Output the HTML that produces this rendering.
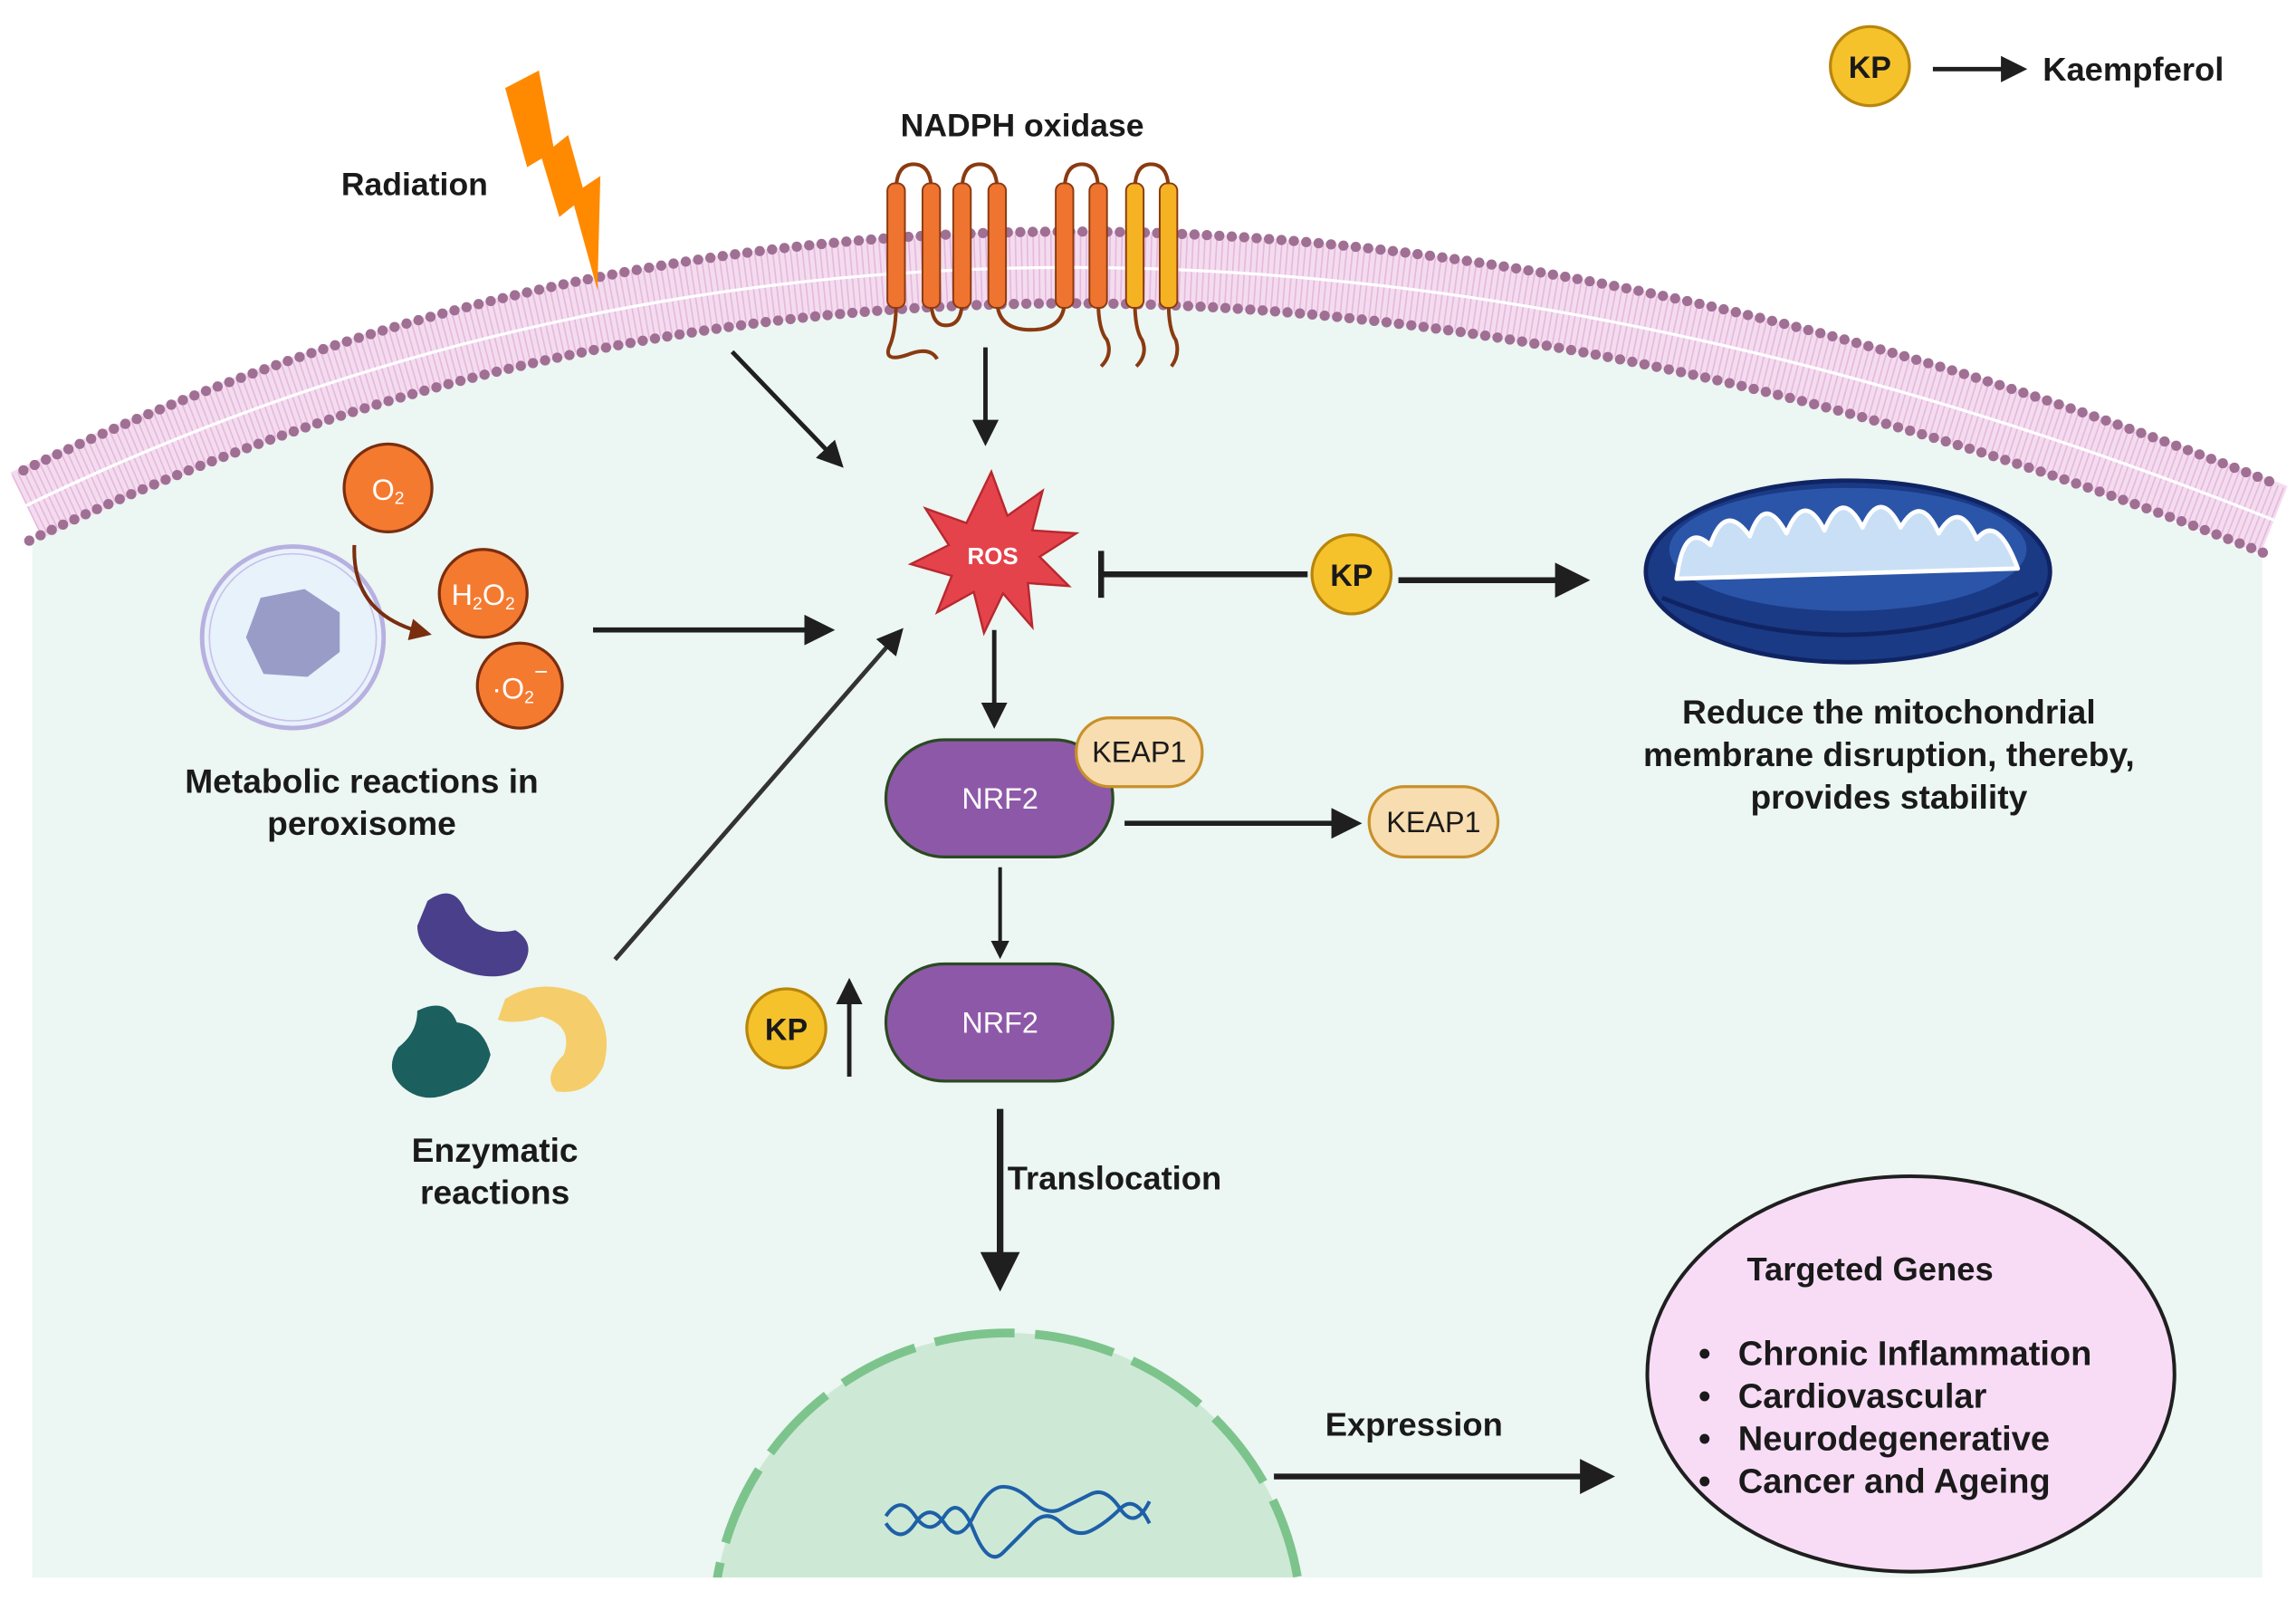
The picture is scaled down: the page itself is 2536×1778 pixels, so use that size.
<!DOCTYPE html>
<html><head><meta charset="utf-8"><style>
html,body{margin:0;padding:0;background:#fff;width:2536px;height:1778px;overflow:hidden}
svg{display:block}
text{font-family:"Liberation Sans",sans-serif;font-weight:bold;fill:#1a1a1a}
</style></head><body>
<svg width="2536" height="1778" viewBox="0 0 1568 1099" xmlns="http://www.w3.org/2000/svg">
<defs>
<marker id="ah" markerWidth="6" markerHeight="6" refX="4.5" refY="3" orient="auto" markerUnits="strokeWidth"><path d="M0,0 L6,3 L0,6 Z" fill="#1f1f1f"/></marker>
<marker id="ahs" markerWidth="5" markerHeight="5" refX="3.5" refY="2.5" orient="auto" markerUnits="strokeWidth"><path d="M0,0 L5,2.5 L0,5 Z" fill="#1f1f1f"/></marker>
<marker id="ahb" markerWidth="6" markerHeight="6" refX="4" refY="3" orient="auto" markerUnits="strokeWidth"><path d="M0,0 L6,3 L0,6 Z" fill="#7a2e10"/></marker>
<clipPath id="cl"><rect x="0" y="0" width="1568" height="1077"/></clipPath>
</defs>
<rect width="1568" height="1099" fill="#fff"/>
<path d="M22,370 Q700,40 1545,380 L1545,1077 L22,1077 Z" fill="#ecf6f2"/>
<path d="M18,345 Q700,15 1553,355" fill="none" stroke="#f4dcef" stroke-width="50"/>
<path d="M18,345 Q700,15 1553,355" fill="none" stroke="#e0a8d6" stroke-width="46" stroke-dasharray="1 3" opacity="0.7"/>
<path d="M18,345 Q700,15 1553,355" fill="none" stroke="#fff" stroke-width="2"/>
<path d="M16,321 Q700,-10 1556,331" fill="none" stroke="#a06f94" stroke-width="7" stroke-dasharray="0 8.5" stroke-linecap="round"/>
<path d="M20,369 Q700,40 1550,379" fill="none" stroke="#a06f94" stroke-width="7" stroke-dasharray="0 8.5" stroke-linecap="round"/>
<circle cx="1277" cy="45" r="27" fill="#f5c22c" stroke="#b8860b" stroke-width="2"/>
<text x="1277" y="53" font-size="21" text-anchor="middle">KP</text>
<line x1="1320" y1="47" x2="1380" y2="47" stroke="#1f1f1f" stroke-width="3" marker-end="url(#ah)"/>
<text x="1395" y="55" font-size="22.5">Kaempferol</text>
<text x="233" y="133" font-size="22">Radiation</text>
<path d="M345,60 L368,48 L378,100 L388,92 L398,128 L410,120 L408,198 L392,140 L382,148 L370,108 L360,114 Z" fill="#ff8a00"/>
<text x="615" y="93" font-size="22">NADPH oxidase</text>
<g fill="none" stroke="#8a3a10" stroke-width="2.5">
<path d="M612,130 Q612,112 624,112 Q636,112 636,130"/>
<path d="M657,130 Q657,112 669,112 Q681,112 681,130"/>
<path d="M727,130 Q727,112 739,112 Q750,112 750,130"/>
<path d="M775,130 Q775,112 786,112 Q798,112 798,130"/>
<path d="M636,205 Q636,222 646,222 Q657,222 657,205"/>
<path d="M681,205 Q681,225 704,225 Q727,225 727,205"/>
<path d="M612,205 Q612,225 608,235 Q602,248 620,242 Q635,236 640,245"/>
<path d="M750,205 Q750,225 756,232 Q760,242 752,250"/>
<path d="M775,205 Q775,225 780,232 Q784,242 776,250"/>
<path d="M798,205 Q798,225 803,232 Q806,242 800,250"/>
</g>
<g stroke="#8a3a10" stroke-width="1.2">
<rect x="606" y="125" width="12" height="85" rx="5" fill="#ee7430"/>
<rect x="630" y="125" width="12" height="85" rx="5" fill="#ee7430"/>
<rect x="651" y="125" width="12" height="85" rx="5" fill="#ee7430"/>
<rect x="675" y="125" width="12" height="85" rx="5" fill="#ee7430"/>
<rect x="721" y="125" width="12" height="85" rx="5" fill="#ee7430"/>
<rect x="744" y="125" width="12" height="85" rx="5" fill="#ee7430"/>
<rect x="769" y="125" width="12" height="85" rx="5" fill="#f5b324"/>
<rect x="792" y="125" width="12" height="85" rx="5" fill="#f5b324"/>
</g>
<line x1="673" y1="237" x2="673" y2="300" stroke="#1f1f1f" stroke-width="3" marker-end="url(#ah)"/>
<line x1="500" y1="240" x2="573" y2="316" stroke="#1f1f1f" stroke-width="3" marker-end="url(#ah)"/>
<line x1="405" y1="430" x2="565" y2="430" stroke="#1f1f1f" stroke-width="3.5" marker-end="url(#ah)"/>
<line x1="420" y1="655" x2="614" y2="432" stroke="#333" stroke-width="3" marker-end="url(#ah)"/>
<path d="M677,322 L688,352 L712,335 L705,362 L735,364 L710,380 L730,400 L702,398 L705,428 L685,405 L672,432 L665,404 L640,418 L650,393 L622,385 L648,372 L632,347 L660,357 Z" fill="#e5434b" stroke="#b8282f" stroke-width="1.5"/>
<text x="678" y="385" font-size="16" text-anchor="middle" style="fill:#fff">ROS</text>
<line x1="752" y1="392" x2="893" y2="392" stroke="#1f1f1f" stroke-width="4"/>
<line x1="752" y1="376" x2="752" y2="408" stroke="#1f1f1f" stroke-width="4"/>
<circle cx="923" cy="392" r="27" fill="#f5c22c" stroke="#b8860b" stroke-width="2"/>
<text x="923" y="400" font-size="21" text-anchor="middle">KP</text>
<line x1="955" y1="396" x2="1080" y2="396" stroke="#1f1f1f" stroke-width="4" marker-end="url(#ah)"/>
<ellipse cx="1262" cy="390" rx="138" ry="62" fill="#1a3a85" stroke="#102463" stroke-width="3"/>
<ellipse cx="1262" cy="375" rx="122" ry="42" fill="#2b55a8"/>
<path d="M1145,395 Q1150,355 1168,372 Q1178,342 1195,366 Q1205,336 1220,364 Q1232,334 1246,362 Q1258,332 1272,360 Q1284,332 1298,360 Q1312,336 1324,364 Q1338,340 1350,368 Q1364,350 1378,388 Z" fill="#c9dff5" stroke="#fff" stroke-width="3" stroke-linejoin="round"/>
<path d="M1135,408 Q1262,460 1392,405" fill="none" stroke="#102463" stroke-width="3"/>
<text x="1290" y="494" font-size="23" text-anchor="middle">Reduce the mitochondrial</text>
<text x="1290" y="523" font-size="23" text-anchor="middle">membrane disruption, thereby,</text>
<text x="1290" y="552" font-size="23" text-anchor="middle">provides stability</text>
<circle cx="200" cy="435" r="62" fill="#e8f2fb" stroke="#b8b0e0" stroke-width="3"/>
<circle cx="200" cy="435" r="57" fill="none" stroke="#c8c0ea" stroke-width="1"/>
<path d="M178,408 L208,402 L232,418 L232,445 L210,462 L180,460 L168,435 Z" fill="#9a9cc8"/>
<path d="M242,372 Q240,420 290,432" fill="none" stroke="#7a2e10" stroke-width="2.5" marker-end="url(#ahb)"/>
<g fill="#f47a30" stroke="#7a2e10" stroke-width="2">
<circle cx="265" cy="333" r="30"/><circle cx="330" cy="405" r="30"/><circle cx="355" cy="468" r="29"/>
</g>
<text x="265" y="341" font-size="20" text-anchor="middle" style="fill:#fff;font-weight:normal">O<tspan font-size="12" dy="3">2</tspan></text>
<text x="330" y="413" font-size="20" text-anchor="middle" style="fill:#fff;font-weight:normal">H<tspan font-size="12" dy="3">2</tspan><tspan dy="-3">O</tspan><tspan font-size="12" dy="3">2</tspan></text>
<text x="355" y="477" font-size="20" text-anchor="middle" style="fill:#fff;font-weight:normal">·O<tspan font-size="12" dy="3">2</tspan><tspan font-size="16" dy="-16">−</tspan></text>
<text x="247" y="541" font-size="23" text-anchor="middle">Metabolic reactions in</text>
<text x="247" y="570" font-size="23" text-anchor="middle">peroxisome</text>
<path d="M292,615 Q310,602 318,622 Q330,640 352,635 Q368,645 355,662 Q335,672 310,660 Q285,650 285,632 Z" fill="#4a3f8a"/>
<path d="M285,690 Q305,680 312,698 Q330,700 335,720 Q330,740 310,745 Q290,755 275,742 Q262,730 272,715 Q285,705 285,690 Z" fill="#1b5f5e"/>
<path d="M345,682 Q370,666 400,680 Q420,700 412,728 Q402,748 380,745 Q370,735 385,720 Q392,700 370,694 Q352,700 340,696 Z" fill="#f5cd6a"/>
<text x="338" y="793" font-size="23" text-anchor="middle">Enzymatic</text>
<text x="338" y="822" font-size="23" text-anchor="middle">reactions</text>
<line x1="679" y1="430" x2="679" y2="493" stroke="#1f1f1f" stroke-width="3" marker-end="url(#ah)"/>
<rect x="605" y="505" width="155" height="80" rx="40" fill="#8e58a8" stroke="#2a4a22" stroke-width="2"/>
<text x="683" y="552" font-size="20" text-anchor="middle" style="fill:#fff;font-weight:normal">NRF2</text>
<rect x="735" y="490" width="86" height="47" rx="23" fill="#f8ddb0" stroke="#c8902a" stroke-width="2"/>
<text x="778" y="520" font-size="20" text-anchor="middle" style="font-weight:normal">KEAP1</text>
<line x1="768" y1="562" x2="925" y2="562" stroke="#1f1f1f" stroke-width="3.5" marker-end="url(#ah)"/>
<rect x="935" y="537" width="88" height="48" rx="24" fill="#f8ddb0" stroke="#c8902a" stroke-width="2"/>
<text x="979" y="568" font-size="20" text-anchor="middle" style="font-weight:normal">KEAP1</text>
<line x1="683" y1="592" x2="683" y2="651" stroke="#1f1f1f" stroke-width="2.5" marker-end="url(#ahs)"/>
<rect x="605" y="658" width="155" height="80" rx="40" fill="#8e58a8" stroke="#2a4a22" stroke-width="2"/>
<text x="683" y="705" font-size="20" text-anchor="middle" style="fill:#fff;font-weight:normal">NRF2</text>
<circle cx="537" cy="702" r="27" fill="#f5c22c" stroke="#b8860b" stroke-width="2"/>
<text x="537" y="710" font-size="21" text-anchor="middle">KP</text>
<line x1="580" y1="735" x2="580" y2="672" stroke="#1f1f1f" stroke-width="3" marker-end="url(#ah)"/>
<line x1="683" y1="757" x2="683" y2="875" stroke="#1f1f1f" stroke-width="4.5" marker-end="url(#ah)"/>
<text x="688" y="812" font-size="22.5">Translocation</text>
<g clip-path="url(#cl)">
<circle cx="688" cy="1111" r="201" fill="#cde9d5" stroke="#7cc48c" stroke-width="6" stroke-dasharray="55 14"/>
</g>
<path d="M605,1035 q10,-15 20,0 t20,0 t20,10 t20,15 t20,-20 t20,0 t20,5 t20,-15 t20,10 M605,1040 q10,15 20,0 t20,0 t20,-5 t20,-20 t20,10 t20,5 t20,-10 t20,10 t20,-5" fill="none" stroke="#1e5fa8" stroke-width="2.5"/>
<line x1="870" y1="1008" x2="1097" y2="1008" stroke="#1f1f1f" stroke-width="4" marker-end="url(#ah)"/>
<text x="905" y="980" font-size="22.5">Expression</text>
<ellipse cx="1305" cy="938" rx="180" ry="135" fill="#f8dcf6" stroke="#1f1f1f" stroke-width="2.5"/>
<text x="1193" y="874" font-size="22.5">Targeted Genes</text>
<g font-size="23.5">
<text x="1160" y="932">•</text><text x="1187" y="932">Chronic Inflammation</text>
<text x="1160" y="961">•</text><text x="1187" y="961">Cardiovascular</text>
<text x="1160" y="990">•</text><text x="1187" y="990">Neurodegenerative</text>
<text x="1160" y="1019">•</text><text x="1187" y="1019">Cancer and Ageing</text>
</g>
</svg>
</body></html>
